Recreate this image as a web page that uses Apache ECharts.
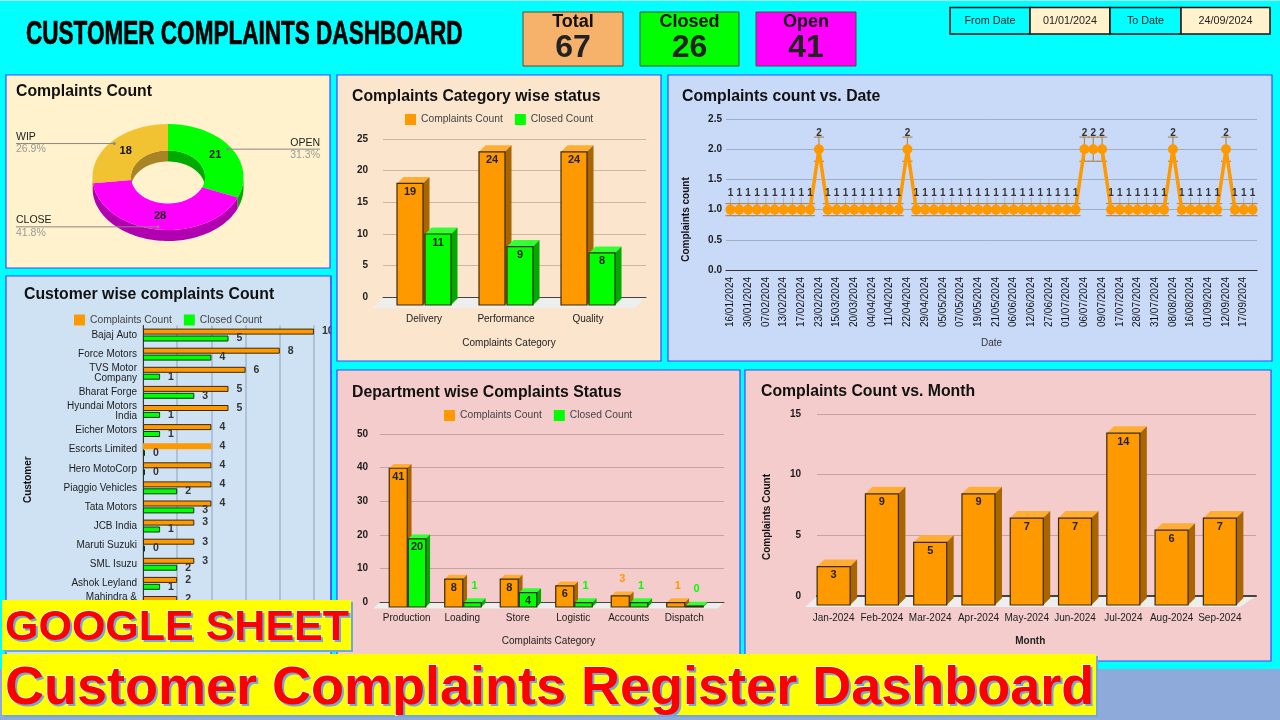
<!DOCTYPE html>
<html><head><meta charset="utf-8">
<style>html,body{margin:0;padding:0;background:#00ffff}#c{width:1280px;height:720px}
.banner{position:absolute;left:2px;background:#FFFF00;box-shadow:2px 2px 0 #6FA8DC;font-family:"Liberation Sans",Arial,sans-serif;font-weight:bold;color:#FF0000;
white-space:nowrap;-webkit-text-stroke:1.4px #fff;paint-order:stroke fill;text-shadow:2px 2px 0 #6FA8DC;box-sizing:border-box;padding-left:3px}
#b1{top:600px;width:349px;height:50px;font-size:43px;line-height:51px}
#b2{top:654px;width:1094px;height:61px;font-size:54px;line-height:62px}
</style>
<script src="https://cdn.jsdelivr.net/npm/echarts@6/dist/echarts.min.js"></script>
</head><body><div id="c"></div>
<div class="banner" id="b1">GOOGLE SHEET</div>
<div class="banner" id="b2">Customer Complaints Register Dashboard</div>
<script>
const FONT='"Liberation Sans",Arial,sans-serif';
// ---------- data ----------
const statusNames=['OPEN','CLOSE','WIP'];
const statusValues=[21,28,18];
const statusShares=['31.3%','41.8%','26.9%'];
const categoryNames=['Delivery','Performance','Quality'];
const categoryComplaints=[19,24,24];
const categoryClosed=[11,9,8];
const departmentNames=['Production','Loading','Store','Logistic','Accounts','Dispatch'];
const departmentComplaints=[41,8,8,6,3,1];
const departmentClosed=[20,1,4,1,1,0];
const monthNames=['Jan-2024','Feb-2024','Mar-2024','Apr-2024','May-2024','Jun-2024','Jul-2024','Aug-2024','Sep-2024'];
const monthComplaints=[3,9,5,9,7,7,14,6,7];
const customerNames=['Bajaj Auto','Force Motors','TVS Motor\nCompany','Bharat Forge','Hyundai Motors\nIndia','Eicher Motors','Escorts Limited','Hero MotoCorp','Piaggio Vehicles','Tata Motors','JCB India','Maruti Suzuki','SML Isuzu','Ashok Leyland','Mahindra &\nMahindra'];
const customerComplaints=[10,8,6,5,5,4,4,4,4,4,3,3,3,2,2];
const customerClosed=[5,4,1,3,1,1,0,0,2,3,1,0,2,1,2];
const dateNames=['16/01/2024','22/01/2024','30/01/2024','02/02/2024','07/02/2024','09/02/2024','13/02/2024','15/02/2024','17/02/2024','20/02/2024','23/02/2024','11/03/2024','15/03/2024','18/03/2024','20/03/2024','28/03/2024','04/04/2024','08/04/2024','11/04/2024','16/04/2024','22/04/2024','25/04/2024','29/04/2024','02/05/2024','05/05/2024','06/05/2024','07/05/2024','12/05/2024','19/05/2024','20/05/2024','21/05/2024','30/05/2024','06/06/2024','10/06/2024','12/06/2024','20/06/2024','27/06/2024','29/06/2024','01/07/2024','04/07/2024','06/07/2024','08/07/2024','09/07/2024','12/07/2024','17/07/2024','22/07/2024','28/07/2024','30/07/2024','31/07/2024','05/08/2024','08/08/2024','12/08/2024','16/08/2024','25/08/2024','01/09/2024','08/09/2024','12/09/2024','15/09/2024','17/09/2024','20/09/2024'];
const dateCounts=[1,1,1,1,1,1,1,1,1,1,2,1,1,1,1,1,1,1,1,1,2,1,1,1,1,1,1,1,1,1,1,1,1,1,1,1,1,1,1,1,2,2,2,1,1,1,1,1,1,1,2,1,1,1,1,1,2,1,1,1];

// ---------- palette ----------
const ORANGE={f:'#FF9900',t:'#FFAD33',s:'#A86500'}, GREEN={f:'#00FF00',t:'#33FF33',s:'#00AA00'};
const LINE='#3a2a10', INK='#1c1c1c';
const grids=[],xAxes=[],yAxes=[],series=[],legends=[],titles=[],graphics=[];

function addTitle(text,x,y){titles.push({text,left:x,top:y,padding:0,textStyle:{fontFamily:FONT,fontSize:15.8,fontWeight:'bold',color:'#111'}});}
function addLegend(x,y){legends.push({left:x,top:y,padding:0,itemWidth:11,itemHeight:11,itemGap:12,icon:'rect',selectedMode:false,data:['Complaints Count','Closed Count'],textStyle:{fontFamily:FONT,fontSize:10.3,color:'#444'}});}

function bars3d(cfg){
  const gi=grids.length;
  // back wall: gridlines and value labels
  grids.push({left:cfg.backLeft,width:cfg.backRight-cfg.backLeft,top:cfg.top,height:cfg.y0-cfg.top});
  xAxes.push({gridIndex:gi,z:1.5,type:'category',data:cfg.cats,axisTick:{show:false},axisLabel:{show:false},axisLine:{show:true,lineStyle:{color:'#444',width:cfg.axisWidth||1}},splitLine:{show:false}});
  yAxes.push({gridIndex:gi,type:'value',min:0,max:cfg.max,interval:cfg.step,axisLine:{show:false},axisTick:{show:false},
    axisLabel:{margin:cfg.labelMargin,fontFamily:FONT,fontSize:10,fontWeight:'bold',color:INK},
    splitLine:{show:true,lineStyle:{color:'rgba(0,0,0,0.2)',width:1}},
    name:cfg.yName||'',nameLocation:'middle',nameGap:cfg.yNameGap||30,nameTextStyle:{fontFamily:FONT,fontSize:10,fontWeight:'bold',color:'#111',padding:[0,cfg.yNameShift||0,0,0]}});
  // front plane: category labels and the bars themselves
  const fi=grids.length;
  grids.push({left:cfg.frontLeft,width:cfg.frontRight-cfg.frontLeft,top:cfg.top,height:cfg.y0-cfg.top});
  xAxes.push({gridIndex:fi,type:'category',data:cfg.cats,axisTick:{show:false},axisLine:{show:false},splitLine:{show:false},
    axisLabel:{interval:0,margin:cfg.catMargin,fontFamily:FONT,fontSize:10,color:INK},
    name:cfg.xName,nameLocation:'middle',nameGap:cfg.xNameGap,nameTextStyle:{fontFamily:FONT,fontSize:10,fontWeight:cfg.xNameBold?'bold':'normal',color:'#222',padding:[0,0,0,cfg.xNameShift||0]}});
  yAxes.push({gridIndex:fi,type:'value',min:0,max:cfg.max,interval:cfg.step,show:false,splitLine:{show:false}});
  // floor
  series.push({type:'custom',name:'floor',coordinateSystem:'cartesian2d',xAxisIndex:gi,yAxisIndex:gi,silent:true,z:1,data:[[0,0]],
    renderItem:(p,api)=>{const y=api.coord([0,0])[1];
      return {type:'polygon',shape:{points:[[cfg.backLeft,y],[cfg.backRight,y],[cfg.floorRight,y+cfg.floorDepth],[cfg.floorLeft,y+cfg.floorDepth]]},style:{fill:'#eeeeee'}};}});
  // bars
  cfg.series.forEach(s=>{
    series.push({type:'custom',name:s.name,coordinateSystem:'cartesian2d',xAxisIndex:fi,yAxisIndex:fi,silent:true,z:3,
      itemStyle:{color:s.pal.f},
      data:s.data.map((v,i)=>[i,v]),
      renderItem:(p,api)=>{
        const i=api.value(0),v=api.value(1),c=api.coord([i,v]),b=api.coord([i,0]);
        const xL=c[0]+s.off[0],xR=c[0]+s.off[1],yT=c[1]+cfg.dyTop,yB=b[1]+cfg.dyBottom,d=cfg.depth;
        const inside=v>=(cfg.insideFrom||0);
        const kids=[
          {type:'polygon',shape:{points:[[xL,yT],[xL+d,yT-d],[xR+d,yT-d],[xR,yT]]},style:{fill:s.pal.t}},
          {type:'polygon',shape:{points:[[xR,yT],[xR+d,yT-d],[xR+d,yB-d],[xR,yB]]},style:{fill:s.pal.s}},
          {type:'rect',shape:{x:xL,y:yT,width:xR-xL,height:yB-yT},style:{fill:s.pal.f,stroke:LINE,lineWidth:1.2}},
          {type:'text',style:{text:String(v),x:(xL+xR)/2+(inside?0:d/2),y:inside?yT+8.5:yT-17,align:'center',verticalAlign:'middle',fontFamily:FONT,fontSize:11,fontWeight:'bold',fill:inside?'#222':s.pal.f}}
        ];
        return {type:'group',children:kids};
      }});
  });
}

// ---------- Complaints Category wise status ----------
addTitle('Complaints Category wise status',352,89);
addLegend(405,114);
bars3d({cats:categoryNames,top:139,y0:297,backLeft:383,backRight:646,frontLeft:383,frontRight:629,floorLeft:373,floorRight:635,floorDepth:11,
  max:25,step:5,labelMargin:15,catMargin:17,xName:'Complaints Category',xNameGap:41,xNameShift:6,
  depth:6.5,dyTop:6.5,dyBottom:8,
  series:[{name:'Complaints Count',data:categoryComplaints,pal:ORANGE,off:[-27,-1]},{name:'Closed Count',data:categoryClosed,pal:GREEN,off:[1,27]}]});
// ---------- Department wise Complaints Status ----------
addTitle('Department wise Complaints Status',352,385);
addLegend(444,410);
bars3d({cats:departmentNames,top:434,y0:602,backLeft:380,backRight:724,frontLeft:379,frontRight:712,floorLeft:373,floorRight:718,floorDepth:6.5,
  max:50,step:10,labelMargin:12,catMargin:11,xName:'Complaints Category',xNameGap:34.5,xNameShift:6,
  depth:4.3,dyTop:4,dyBottom:5,insideFrom:4,
  series:[{name:'Complaints Count',data:departmentComplaints,pal:ORANGE,off:[-17.5,0.5]},{name:'Closed Count',data:departmentClosed,pal:GREEN,off:[1.5,19]}]});
// ---------- Complaints Count vs. Month ----------
addTitle('Complaints Count vs. Month',761,384);
bars3d({cats:monthNames,top:414,y0:596,backLeft:817,backRight:1256,frontLeft:809.5,frontRight:1244,floorLeft:805,floorRight:1240,floorDepth:11,axisWidth:2,
  max:15,step:5,labelMargin:16,catMargin:17,xName:'Month',xNameGap:40,xNameBold:true,xNameShift:7,
  yName:'Complaints Count',yNameGap:45,yNameShift:24,
  depth:7,dyTop:7,dyBottom:9,
  series:[{name:'Complaints Count',data:monthComplaints,pal:ORANGE,off:[-16.5,16.5]}]});

// ---------- Customer wise complaints Count ----------
addTitle('Customer wise complaints Count',24,287);
addLegend(74,314.5);
{
  const gi=grids.length;
  grids.push({left:143,width:171,top:325.5,height:286.5});
  xAxes.push({gridIndex:gi,type:'value',min:0,max:10,interval:2,axisLine:{show:false},axisTick:{show:false},axisLabel:{fontFamily:FONT,fontSize:10,color:INK},splitLine:{show:true,lineStyle:{color:'rgba(80,100,130,0.35)',width:1.5}}});
  yAxes.push({gridIndex:gi,type:'category',inverse:true,data:customerNames,axisTick:{show:false},axisLine:{show:true,lineStyle:{color:'#333',width:1}},
    axisLabel:{interval:0,margin:6,fontFamily:FONT,fontSize:10,lineHeight:10,color:INK,align:'right'},
    name:'Customer',nameLocation:'middle',nameGap:110,nameTextStyle:{fontFamily:FONT,fontSize:10,fontWeight:'bold',color:'#111',padding:[0,22,0,0]}});
  const lab={show:true,position:'right',distance:8,fontFamily:FONT,fontSize:10.5,fontWeight:'bold',color:'#333'};
  series.push({type:'bar',name:'Complaints Count',xAxisIndex:gi,yAxisIndex:gi,barWidth:6,barGap:'15%',barMinHeight:2,z:3,silent:true,
    itemStyle:{color:ORANGE.f,borderColor:LINE,borderWidth:1},label:lab,
    data:customerComplaints.map((v,i)=>customerNames[i]==='Escorts Limited'?{value:v,itemStyle:{borderWidth:0}}:v)});
  series.push({type:'bar',name:'Closed Count',xAxisIndex:gi,yAxisIndex:gi,barWidth:6,barMinHeight:2,z:3,silent:true,
    itemStyle:{color:GREEN.f,borderColor:'#0a3a12',borderWidth:1},label:lab,data:customerClosed});
}

// ---------- Complaints count vs. Date ----------
addTitle('Complaints count vs. Date',682,89);
{
  const gi=grids.length;
  grids.push({left:726,width:531,top:119,height:151});
  xAxes.push({gridIndex:gi,type:'category',data:dateNames,axisTick:{show:false},axisLine:{show:true,lineStyle:{color:'#333',width:1.2}},splitLine:{show:false},
    axisLabel:{interval:1,rotate:90,margin:7,fontFamily:FONT,fontSize:10,color:'#111'},
    name:'Date',nameLocation:'middle',nameGap:68,nameTextStyle:{fontFamily:FONT,fontSize:10,color:'#333'}});
  yAxes.push({gridIndex:gi,type:'value',min:0,max:2.5,interval:0.5,axisLine:{show:false},axisTick:{show:false},
    axisLabel:{margin:4,formatter:v=>v.toFixed(1),fontFamily:FONT,fontSize:10,fontWeight:'bold',color:INK},
    splitLine:{show:true,lineStyle:{color:'rgba(60,70,90,0.3)',width:1}},
    name:'Complaints count',nameLocation:'middle',nameGap:35,nameTextStyle:{fontFamily:FONT,fontSize:10,fontWeight:'bold',color:'#111',padding:[0,50,0,0]}});
  series.push({type:'custom',name:'interval',coordinateSystem:'cartesian2d',xAxisIndex:gi,yAxisIndex:gi,silent:true,z:4,
    data:dateCounts.map((v,i)=>[i,v]),
    renderItem:(p,api)=>{
      const i=api.value(0),v=api.value(1),hi=api.coord([i,v*1.1]),lo=api.coord([i,v*0.9]),w=api.size([1,0])[0]/2+0.6;
      const st={stroke:'#B08A50',lineWidth:1.2};
      return {type:'group',children:[
        {type:'line',shape:{x1:hi[0],y1:hi[1]-6,x2:hi[0],y2:hi[1]},style:{stroke:'rgba(90,90,90,0.3)',lineWidth:1}},
        {type:'line',shape:{x1:hi[0],y1:hi[1],x2:lo[0],y2:lo[1]},style:st},
        {type:'line',shape:{x1:hi[0]-w,y1:hi[1],x2:hi[0]+w,y2:hi[1]},style:st},
        {type:'line',shape:{x1:lo[0]-w,y1:lo[1],x2:lo[0]+w,y2:lo[1]},style:st}]};
    }});
  series.push({type:'line',name:'Complaints count',xAxisIndex:gi,yAxisIndex:gi,data:dateCounts,silent:true,z:5,
    symbol:'circle',symbolSize:10,showAllSymbol:true,lineStyle:{color:ORANGE.f,width:3.5},itemStyle:{color:ORANGE.f},
    label:{show:true,position:'top',distance:6,fontFamily:FONT,fontSize:10,fontWeight:'bold',color:'#333'}});
}

// ---------- Complaints Count donut ----------
addTitle('Complaints Count',16,84);
{
  const cx=168,cy=177,rx=75.5,ry=53,ix=37,iy=26.5,dp=11;
  const total=statusValues.reduce((a,b)=>a+b,0);
  const colours=[{t:'#00FF00',s:'#00AA00'},{t:'#FF00FF',s:'#B000B0'},{t:'#F1C232',s:'#A88426'}];
  const rad=d=>d*Math.PI/180;
  const pt=(a,x,y,dy)=>[cx+x*Math.sin(rad(a)),cy-y*Math.cos(rad(a))+(dy||0)];
  const arc=(a0,a1,x,y,dy)=>{const out=[],n=Math.max(2,Math.ceil(Math.abs(a1-a0)/2));for(let k=0;k<=n;k++)out.push(pt(a0+(a1-a0)*k/n,x,y,dy));return out;};
  const wall=(a0,a1,x,y)=>arc(a0,a1,x,y,0).concat(arc(a1,a0,x,y,dp));
  const spans=[];let run=0;statusValues.forEach(v=>{const a=run/total*360;run+=v;spans.push([a,run/total*360]);});
  const pieSeries=(layer,z)=>series.push({type:'custom',name:'status-'+layer,coordinateSystem:'none',silent:true,z,
    data:statusValues.map((v,i)=>[i,v]),
    renderItem:(p,api)=>{
      const i=api.value(0),[a0,a1]=spans[i],col=colours[i],kids=[];
      if(layer==='wall'){
        const o0=Math.max(a0,90),o1=Math.min(a1,270);
        if(o1>o0)kids.push({type:'polygon',shape:{points:wall(o0,o1,rx,ry)},style:{fill:col.s}});
        [[a0,Math.min(a1,90)],[Math.max(a0,270),a1]].forEach(([b0,b1])=>{if(b1>b0)kids.push({type:'polygon',shape:{points:wall(b0,b1,ix,iy)},style:{fill:col.s}});});
      }else{
        kids.push({type:'polygon',shape:{points:arc(a0,a1,rx,ry).concat(arc(a1,a0,ix,iy))},style:{fill:col.t}});
        const mid=(a0+a1)/2,lp=pt(mid,rx*0.75,ry*0.75),dot=pt(mid,rx*0.95,ry*0.95);
        const right=mid<180,ex=right?320:16,tx=ex;
        kids.push({type:'line',shape:{x1:dot[0],y1:dot[1],x2:ex,y2:dot[1]},style:{stroke:'#888',lineWidth:1}});
        kids.push({type:'circle',shape:{cx:dot[0],cy:dot[1],r:1.5},style:{fill:'#888'}});
        kids.push({type:'text',style:{text:String(statusValues[i]),x:lp[0],y:lp[1],align:'center',verticalAlign:'middle',fontFamily:FONT,fontSize:11,fontWeight:'bold',fill:'#111'}});
        kids.push({type:'text',style:{text:statusNames[i],x:tx,y:dot[1]-6.5,align:right?'right':'left',verticalAlign:'middle',fontFamily:FONT,fontSize:10.5,fill:'#222'}});
        kids.push({type:'text',style:{text:statusShares[i],x:tx,y:dot[1]+6,align:right?'right':'left',verticalAlign:'middle',fontFamily:FONT,fontSize:10.5,fill:'#999'}});
      }
      return {type:'group',children:kids};
    }});
  pieSeries('wall',3);pieSeries('top',4);
}

// ---------- page furniture ----------
const box=(x,y,w,h,fill,stroke,lw,z)=>({type:'rect',silent:true,z:z,shape:{x,y,width:w,height:h},style:{fill,stroke:stroke||null,lineWidth:lw||0}});
const txt=(x,y,text,font,fill,align,z,extra)=>Object.assign({type:'text',silent:true,z:z,x,y,style:Object.assign({text,font,fill,align:align||'center',verticalAlign:'middle'},extra&&extra.style)},extra&&extra.el);
const PB='#3c46ff';
[[6,75,324,193,'#FFF2CC'],[6,276,325,384,'#CFE2F3'],[337,75,324,286,'#FCE5CD'],[668,75,604,286,'#C9DAF8'],[337,370,403,285,'#F4CCCC'],[745,370,526,291,'#F4CCCC']]
  .forEach(p=>graphics.push(box(p[0],p[1],p[2],p[3],p[4],PB,1.2,-5)));
graphics.push(box(0,669,1280,51,'#8EAADB',null,0,-6));
graphics.push(box(0,0,1280,1,'#b5dede',null,0,-6));
// clip the long "10" label against the customer panel edge
graphics.push(box(331.5,276,4.5,94,'#00FFFF',null,0,50));
graphics.push({type:'line',silent:true,z:51,shape:{x1:331,y1:276,x2:331,y2:600},style:{stroke:PB,lineWidth:1.2}});
// header
graphics.push(txt(26,35,'CUSTOMER COMPLAINTS DASHBOARD','bold 33px '+FONT,'#000','left',60,{el:{scaleX:0.683},style:{stroke:'#000',lineWidth:0.7}}));
[[523,100,'#F6B26B','Total','67'],[640,99,'#00FF00','Closed','26'],[756,100,'#FF00FF','Open','41']].forEach(k=>{
  graphics.push(box(k[0],12,k[1],54,k[2],'#5a4a30',1,60));
  graphics.push(txt(k[0]+k[1]/2,22.5,k[3],'bold 18px '+FONT,'#111','center',61));
  graphics.push(txt(k[0]+k[1]/2,48,k[4],'bold 32px '+FONT,'#222','center',61));
});
[[950,80,'#00FFFF','From Date'],[1030,80,'#FFF2CC','01/01/2024'],[1110,71,'#00FFFF','To Date'],[1181,89,'#FFF2CC','24/09/2024']].forEach(c=>{
  graphics.push(box(c[0],7.5,c[1],26.5,c[2],'#111',1.5,60));
  graphics.push(txt(c[0]+c[1]/2,21,c[3],'10.8px '+FONT,'#222','center',61));
});

const chart=echarts.init(document.getElementById('c'),null,{width:1280,height:720});
chart.setOption({animation:false,backgroundColor:'#00FFFF',textStyle:{fontFamily:FONT},
  title:titles,legend:legends,grid:grids,xAxis:xAxes,yAxis:yAxes,series:series,graphic:graphics});
</script></body></html>
